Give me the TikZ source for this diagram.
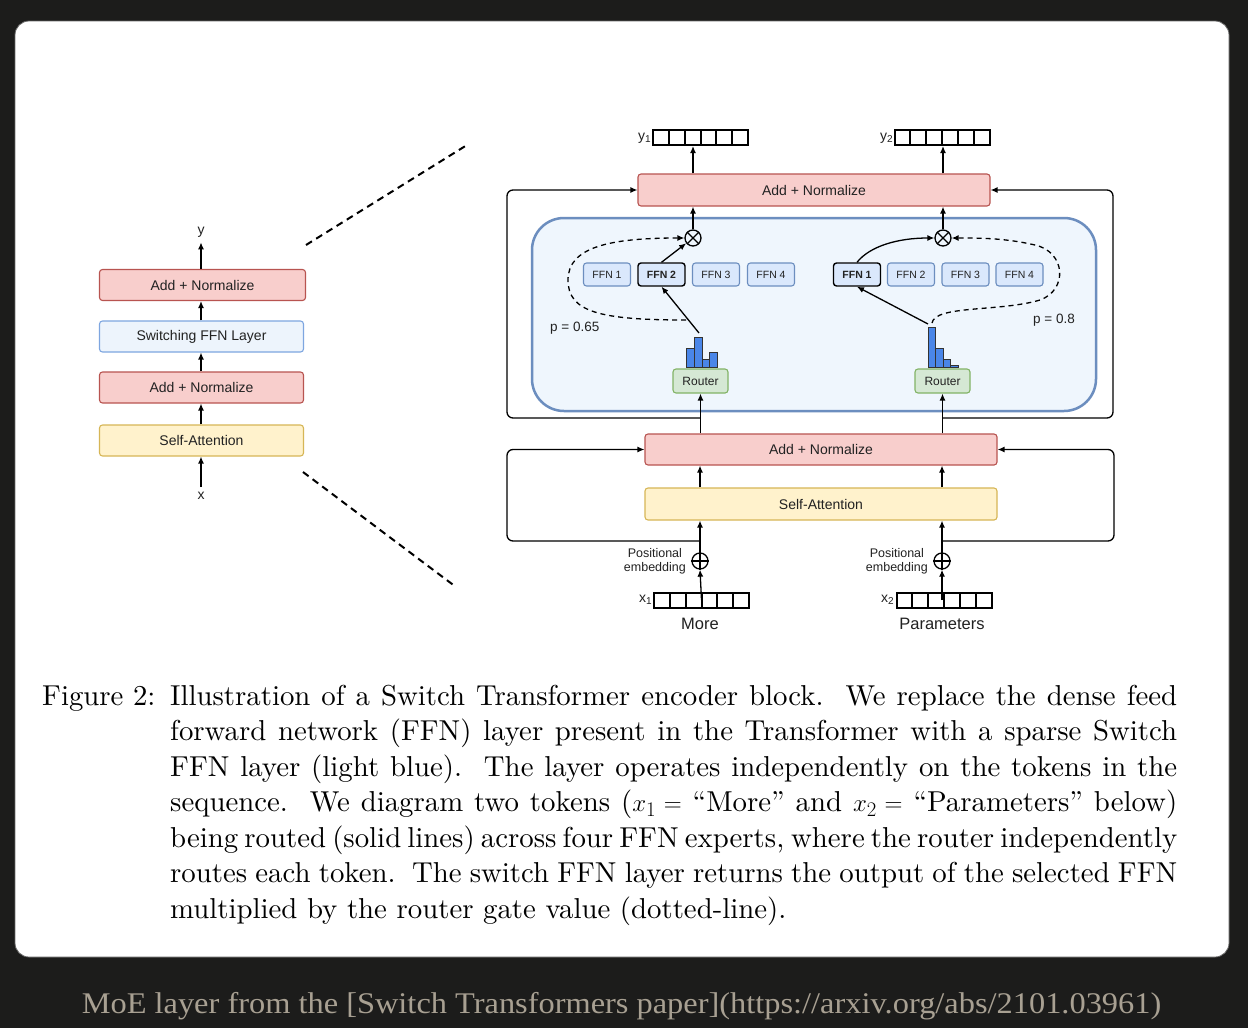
\documentclass[tikz,border=0pt]{standalone}
\usepackage{fontspec}
\newfontfamily\arialf{Liberation Sans}
\newfontfamily\footf{Liberation Serif}
\newfontfamily\capf{lmroman10-regular}[Extension=.otf, Ligatures=TeX]
\usetikzlibrary{arrows.meta}
\definecolor{bgdark}{HTML}{1C1C1B}
\definecolor{pinkF}{HTML}{F8CECC}
\definecolor{pinkD}{HTML}{B85450}
\definecolor{yelF}{HTML}{FFF2CC}
\definecolor{yelD}{HTML}{D6B656}
\definecolor{grnF}{HTML}{D5E8D4}
\definecolor{grnD}{HTML}{82B366}
\definecolor{bluF}{HTML}{DAE8FC}
\definecolor{bluD}{HTML}{6C8EBF}
\definecolor{contF}{HTML}{EFF6FD}
\definecolor{swF}{HTML}{EDF4FC}
\definecolor{swD}{HTML}{7EA6E0}
\definecolor{barF}{HTML}{4A86E8}
\definecolor{footC}{RGB}{168,160,146}
\definecolor{txt}{HTML}{222222}
\newcommand{\capfont}{\capf\fontsize{28.8}{35.5}\selectfont\spaceskip=0.333em plus 0.4em minus 0.2em\relax}
\newcommand{\capline}[1]{\makebox[1007pt][s]{#1}}
\newcommand{\mysub}[1]{\raisebox{-2pt}{\fontsize{10}{10}\selectfont #1}}
\begin{document}
\begin{tikzpicture}[x=1pt,y=-1pt,
  arr/.style={-{Latex[length=7pt,width=6pt]}, line width=1.3pt},
  box/.style={draw, rounded corners=3pt, line width=1.1pt, inner sep=0pt,
    font=\arialf\fontsize{14}{16}\selectfont, text=txt},
  pinkbox/.style={box, fill=pinkF, draw=pinkD},
  yelbox/.style={box, fill=yelF, draw=yelD},
  swbox/.style={box, fill=swF, draw=swD},
  ffnbox/.style={box, fill=bluF, draw=bluD, minimum width=47pt, minimum height=23pt,
    font=\arialf\fontsize{10.5}{12}\selectfont},
  ffnsel/.style={ffnbox, draw=black, line width=1.4pt, font=\arialf\bfseries\fontsize{10.5}{12}\selectfont},
  router/.style={box, fill=grnF, draw=grnD, minimum width=55pt, minimum height=24pt,
    font=\arialf\fontsize{12}{14}\selectfont},
  vecbox/.style={draw, line width=2pt, minimum width=95pt, minimum height=15pt, inner sep=0pt},
  opcirc/.style={circle, draw, line width=1.3pt, minimum size=16pt, inner sep=0pt},
  lbl/.style={font=\arialf\fontsize{14}{16}\selectfont, text=txt, inner sep=1pt},
  zoomline/.style={line width=2pt, dash pattern=on 7pt off 5pt},
  bar/.style={fill=barF, draw=black!80, line width=0.8pt}
]
\useasboundingbox (0,0) rectangle (1248,1028);
\fill[bgdark] (0,0) rectangle (1248,1028);
\draw[fill=white, draw=black!60, line width=0.8pt, rounded corners=14pt] (15,21) rectangle (1229,957);

% ---------------- left stack ----------------
\node[pinkbox, minimum width=206pt, minimum height=31pt] (ln2) at (202.5,285) {Add + Normalize};
\node[swbox, minimum width=204pt, minimum height=31pt] (lsw) at (201.5,336.5) {Switching FFN Layer};
\node[pinkbox, minimum width=204pt, minimum height=31pt] (ln1) at (201.5,387.5) {Add + Normalize};
\node[yelbox, minimum width=204pt, minimum height=31pt] (lsa) at (201.5,440.5) {Self-Attention};
\node[lbl, inner ysep=5pt] (ly) at (201,232) {y};
\node[lbl, inner ysep=5pt] (lx) at (201,496) {x};
\draw[arr] (lx.north) -- (lsa.south -| lx);
\draw[arr] (lsa.north -| lx) -- (ln1.south -| lx);
\draw[arr] (ln1.north -| lx) -- (lsw.south -| lx);
\draw[arr] (lsw.north -| lx) -- (ln2.south -| lx);
\draw[arr] (ln2.north -| lx) -- (ly.south);

% zoom dashed lines
\coordinate (zt1) at (306,245); \coordinate (zt2) at (467,145);
\coordinate (zb1) at (303,472); \coordinate (zb2) at (456,587);
\draw[zoomline] (zt1) -- (zt2);
\draw[zoomline] (zb1) -- (zb2);

% ---------------- right: container ----------------
\draw[fill=contF, draw=bluD, line width=2.5pt, rounded corners=32pt] (532,218) rectangle (1096,411);

% top add+norm
\node[pinkbox, minimum width=352pt, minimum height=32pt] (tan) at (814,190) {Add + Normalize};
% bottom add+norm, self-attn
\node[pinkbox, minimum width=352pt, minimum height=31pt] (ban) at (821,449.5) {Add + Normalize};
\node[yelbox, minimum width=352pt, minimum height=32pt] (sa) at (821,504) {Self-Attention};

% FFN boxes left
\node[ffnbox] (lf1) at (607,274.5) {FFN 1};
\node[ffnsel] (lf2) at (661.5,274.5) {FFN 2};
\node[ffnbox] (lf3) at (716,274.5) {FFN 3};
\node[ffnbox] (lf4) at (771,274.5) {FFN 4};
% FFN boxes right
\node[ffnsel] (rf1) at (857,274.5) {FFN 1};
\node[ffnbox] (rf2) at (911,274.5) {FFN 2};
\node[ffnbox] (rf3) at (965.5,274.5) {FFN 3};
\node[ffnbox] (rf4) at (1019.5,274.5) {FFN 4};

% routers
\node[router] (rl) at (700.5,381) {Router};
\node[router] (rr) at (942.5,381) {Router};

% histograms
\draw[bar] (686,348) rectangle (694,367);
\draw[bar] (694,337) rectangle (702,367);
\draw[bar] (702,359) rectangle (709,367);
\draw[bar] (709,352) rectangle (717,367);
\draw[bar] (928,327) rectangle (935,367);
\draw[bar] (935,348) rectangle (943,367);
\draw[bar] (943,359) rectangle (950,367);
\draw[bar] (950,365.5) rectangle (958,367);
\coordinate (hl) at (699,333);
\coordinate (hr) at (928,324);
\coordinate (hld) at (686,320);
\coordinate (hrd) at (932,323);

% multiply circles
\node[opcirc] (ml) at (693,238) {};
\draw[line width=1.3pt] (ml.north west) -- (ml.south east) (ml.north east) -- (ml.south west);
\node[opcirc] (mr) at (943,238) {};
\draw[line width=1.3pt] (mr.north west) -- (mr.south east) (mr.north east) -- (mr.south west);

% output vectors
\node[vecbox] (y1v) at (700.5,137.5) {};
\foreach \i in {1,...,5} \draw[line width=2pt] ({653+\i*95/6},130) -- ++(0,15);
\node[vecbox] (y2v) at (942,137.5) {};
\foreach \i in {1,...,5} \draw[line width=2pt] ({894.5+\i*95/6},130) -- ++(0,15);
\node[lbl, anchor=east] (y1l) at (652,138) {y\mysub{1}};
\node[lbl, anchor=east] (y2l) at (894,138) {y\mysub{2}};

% input vectors
\node[vecbox] (x1v) at (701.5,600) {};
\foreach \i in {1,...,5} \draw[line width=2pt] ({654+\i*95/6},592.5) -- ++(0,15);
\node[vecbox] (x2v) at (944,600) {};
\foreach \i in {1,...,5} \draw[line width=2pt] ({896.5+\i*95/6},592.5) -- ++(0,15);
\node[lbl, anchor=east] (x1l) at (653,600) {x\mysub{1}};
\node[lbl, anchor=east] (x2l) at (895,600) {x\mysub{2}};
\node[font=\arialf\fontsize{16.5}{18}\selectfont, text=txt] (more) at (700,624) {More};
\node[font=\arialf\fontsize{16.5}{18}\selectfont, text=txt] (params) at (942,624) {Parameters};

% positional embedding
\node[opcirc] (pl) at (700,561) {};
\draw[line width=1.3pt] (pl.north) -- (pl.south) (pl.west) -- (pl.east);
\node[opcirc] (pr) at (942,561) {};
\draw[line width=1.3pt] (pr.north) -- (pr.south) (pr.west) -- (pr.east);
\node[font=\arialf\fontsize{12.5}{14}\selectfont, text=txt, align=center, anchor=east, inner sep=0pt] (pel) at (686,561) {Positional\\embedding};
\node[font=\arialf\fontsize{12.5}{14}\selectfont, text=txt, align=center, anchor=east, inner sep=0pt] (per) at (928,561) {Positional\\embedding};

% p labels
\node[font=\arialf\fontsize{13.5}{15}\selectfont, text=txt, anchor=west, inner sep=0pt] (p1) at (550,328) {p = 0.65};
\node[font=\arialf\fontsize{13.5}{15}\selectfont, text=txt, anchor=west, inner sep=0pt] (p2) at (1033,320) {p = 0.8};

% ---------------- arrows ----------------
\draw[arr] (x1v.center) -- (pl.south);
\draw[arr] (pl.north) -- (sa.south -| pl);
\draw[arr] (x2v.center -| pr) -- (pr.south);
\draw[arr] (pr.north) -- (sa.south -| pr);
\draw[arr] (sa.north -| pl) -- (ban.south -| pl);
\draw[arr] (sa.north -| pr) -- (ban.south -| pr);
\coordinate (jb1) at (700,541);
\coordinate (jb2) at (942,541);
\draw[arr, rounded corners=6pt] (jb1) -- (507,541) -- (507,449.5) -- (ban.west);
\draw[arr, rounded corners=6pt] (jb2) -- (1114,541) -- (1114,449.5) -- (ban.east);

\draw[arr] (ban.north -| rl) -- (rl.south);
\draw[arr] (ban.north -| rr) -- (rr.south);
\coordinate (jt1) at (700.5,418);
\coordinate (jt2) at (942.5,418);
\draw[arr, rounded corners=6pt] (jt1) -- (507,418) -- (507,190) -- (tan.west);
\draw[arr, rounded corners=6pt] (jt2) -- (1113,418) -- (1113,190) -- (tan.east);

\draw[arr] (hl) -- (lf2.south);
\draw[arr] (lf2.north) -- (ml);
\draw[arr] (hr) -- (rf1.south);
\draw[arr] (rf1.north) .. controls (870,246) and (898,238) .. (mr.west);

\draw[arr, dashed, dash pattern=on 5pt off 4pt] (hld) .. controls (600,320) and (568,312) .. (568,280) .. controls (568,247) and (610,238) .. (ml.west);
\draw[arr, dashed, dash pattern=on 5pt off 4pt] (hrd) .. controls (935,305) and (1000,312) .. (1040,300) .. controls (1068,290) and (1066,252) .. (1035,245) .. controls (1005,238) and (980,238) .. (mr.east);

\draw[arr] (ml.north) -- (tan.south -| ml);
\draw[arr] (mr.north) -- (tan.south -| mr);
\draw[arr] (tan.north -| ml) -- (y1v.south -| ml);
\draw[arr] (tan.north -| mr) -- (y2v.south -| mr);

% ---------------- caption ----------------
\node[anchor=base west, inner sep=0pt, font=\capfont] (figlab) at (42,705) {Figure 2:};
\node[anchor=base west, inner sep=0pt, align=left, font=\capfont] (cap) at (170,918) {%
\capline{Illustration of a Switch Transformer encoder block.\ \ We replace the dense feed}\\
\capline{forward network (FFN) layer present in the Transformer with a sparse Switch}\\
\capline{FFN layer (light blue).\ \ The layer operates independently on the tokens in the}\\
\capline{sequence.\ \ We diagram two tokens ($x_1 =$ ``More'' and $x_2 =$ ``Parameters'' below)}\\
\capline{being routed (solid lines) across four FFN experts, where the router independently}\\
\capline{routes each token.\ \ The switch FFN layer returns the output of the selected FFN}\\
multiplied by the router gate value (dotted-line).};

% ---------------- footer ----------------
\node[anchor=base, inner sep=0pt, text=footC, xscale=1.08, font=\footf\fontsize{30}{32}\selectfont] (foot) at (621.5,1013) {MoE layer from the [Switch Transformers paper](https://arxiv.org/abs/2101.03961)};
\end{tikzpicture}
\end{document}
